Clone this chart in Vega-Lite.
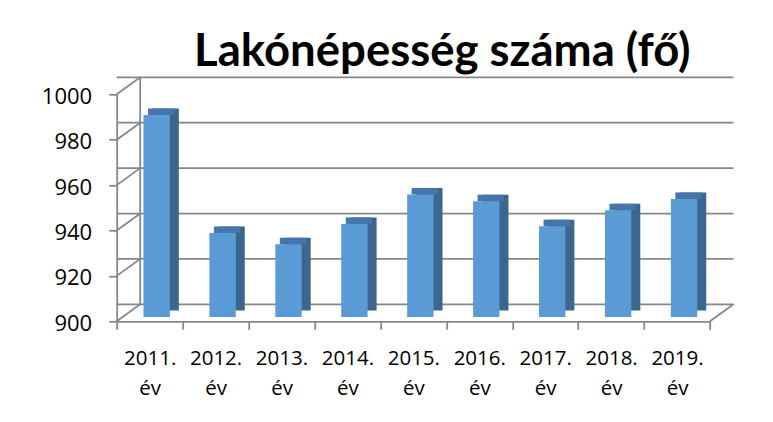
{
  "$schema": "https://vega.github.io/schema/vega-lite/v6.json",
  "autosize": "none",
  "width": 593.3,
  "height": 227,
  "padding": {"left": 116.7, "top": 94.3, "right": 63, "bottom": 100.7},
  "background": "white",
  "config": {"view": {"stroke": null}, "font": "Open Sans"},
  "title": {
    "text": "Lakónépesség száma (fő)",
    "font": "Lato",
    "fontSize": 45.5,
    "fontWeight": "bold",
    "color": "#000000",
    "frame": "group",
    "anchor": "middle",
    "dx": 29,
    "dy": 62,
    "offset": 27,
    "baseline": "alphabetic"
  },
  "datasets": {
    "pop": [
      {"ev": "2011. év", "fo": 989},
      {"ev": "2012. év", "fo": 937},
      {"ev": "2013. év", "fo": 932},
      {"ev": "2014. év", "fo": 941},
      {"ev": "2015. év", "fo": 954},
      {"ev": "2016. év", "fo": 951},
      {"ev": "2017. év", "fo": 940},
      {"ev": "2018. év", "fo": 947},
      {"ev": "2019. év", "fo": 952}
    ],
    "ticks": [{"t": 900}, {"t": 920}, {"t": 940}, {"t": 960}, {"t": 980}, {"t": 1000}]
  },
  "layer": [
    {
      "data": {"name": "ticks"},
      "mark": {"type": "rule", "color": "#868686", "strokeWidth": 1.75, "xOffset": 23.5, "x2Offset": 23.5, "yOffset": -17},
      "encoding": {
        "y": {"field": "t", "type": "quantitative", "scale": {"domain": [900, 1000], "zero": false, "nice": false},
          "axis": {"values": [900, 920, 940, 960, 980, 1000], "format": "d", "tickSize": 8, "labelPadding": 17, "domainColor": "#868686", "domainWidth": 1.75, "tickColor": "#868686", "tickWidth": 1.75, "labelFont": "Open Sans", "labelFontSize": 22, "labelColor": "#000000", "labelOffset": 2, "grid": false, "title": null}}
      }
    },
    {
      "data": {"name": "ticks"},
      "mark": {"type": "rule", "color": "#868686", "strokeWidth": 1.75, "x2Offset": 23.5, "y2Offset": -17},
      "encoding": {
        "x": {"value": 0},
        "x2": {"value": 0},
        "y": {"field": "t", "type": "quantitative"},
        "y2": {"field": "t"}
      }
    },
    {
      "data": {"values": [{"a": 900, "b": 1000}]},
      "mark": {"type": "rule", "color": "#868686", "strokeWidth": 1.75, "xOffset": 23.5, "x2Offset": 23.5, "yOffset": -17, "y2Offset": -17},
      "encoding": {
        "x": {"value": 0},
        "x2": {"value": 0},
        "y": {"field": "a", "type": "quantitative"},
        "y2": {"field": "b"}
      }
    },
    {
      "data": {"values": [{"a": 900}]},
      "mark": {"type": "rule", "color": "#868686", "strokeWidth": 1.75, "x2Offset": 23.5, "y2Offset": -17},
      "encoding": {
        "x": {"value": "width"},
        "x2": {"value": "width"},
        "y": {"field": "a", "type": "quantitative"},
        "y2": {"field": "a"}
      }
    },
    {
      "data": {"name": "pop"},
      "mark": {"type": "bar", "color": "#3B6690", "width": {"band": 0.4}, "xOffset": 16, "yOffset": -10.8, "y2Offset": -10.8},
      "encoding": {
        "x": {"field": "ev", "type": "nominal", "sort": null, "scale": {"paddingInner": 0, "paddingOuter": 0},
          "axis": {"tickBand": "extent", "tickSize": 8, "labelPadding": 19, "labelAngle": 0, "domainColor": "#868686", "domainWidth": 1.75, "tickColor": "#868686", "tickWidth": 1.75, "labelFont": "Open Sans", "labelFontSize": 20.5, "labelColor": "#000000", "labelLineHeight": 30.5, "labelExpr": "split(datum.label, ' ')", "title": null}},
        "y": {"field": "fo", "type": "quantitative"},
        "y2": {"datum": 900}
      }
    },
    {
      "data": {"name": "pop"},
      "mark": {"type": "bar", "color": "#4575AA", "width": {"band": 0.4}, "xOffset": 11.5, "yOffset": -10.8, "y2Offset": -4.3},
      "encoding": {
        "x": {"field": "ev", "type": "nominal", "sort": null},
        "y": {"field": "fo", "type": "quantitative"},
        "y2": {"field": "fo"}
      }
    },
    {
      "data": {"name": "pop"},
      "mark": {"type": "bar", "color": "#5B9BD5", "width": {"band": 0.4}, "xOffset": 7, "yOffset": -4.3, "y2Offset": -4.3},
      "encoding": {
        "x": {"field": "ev", "type": "nominal", "sort": null},
        "y": {"field": "fo", "type": "quantitative"},
        "y2": {"datum": 900}
      }
    }
  ]
}
